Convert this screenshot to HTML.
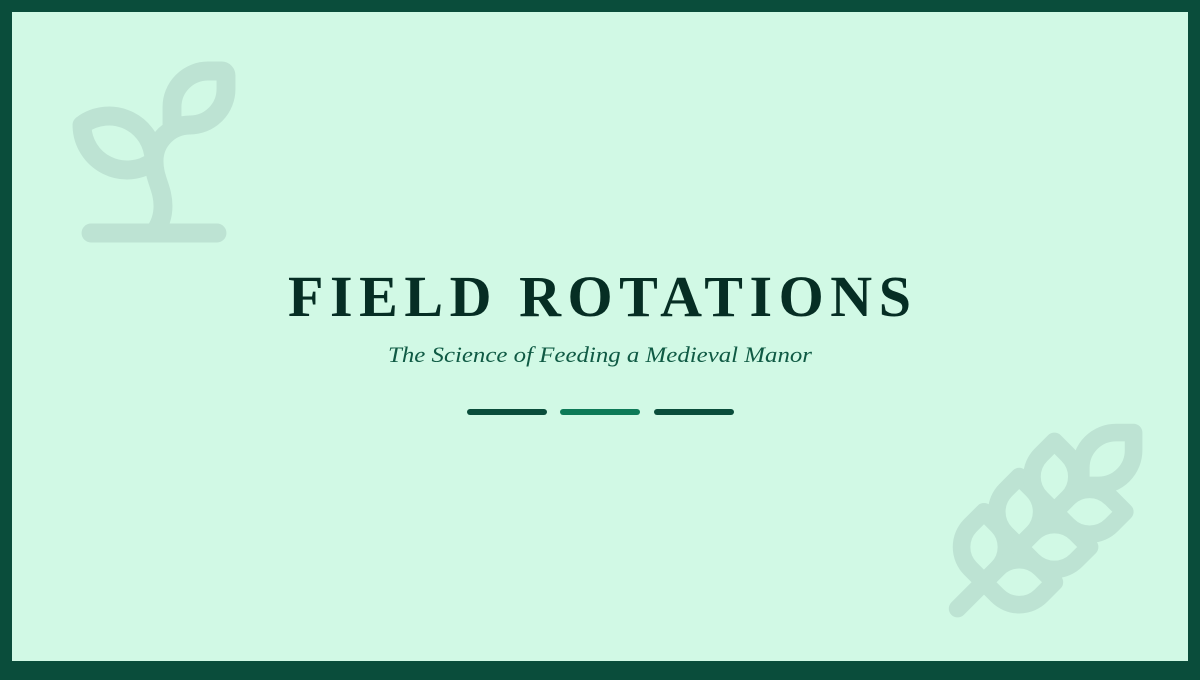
<!DOCTYPE html>
<html><head><meta charset="utf-8"><style>
html,body{margin:0;padding:0;}
body{width:1200px;height:675px;overflow:hidden;background:#0a4d3b;}
</style></head><body>
<svg width="1200" height="675" viewBox="0 0 1200 675" xmlns="http://www.w3.org/2000/svg">
<rect x="0" y="0" width="1200" height="675" fill="#0a4d3b"/>
<rect x="12" y="12" width="1176" height="649" fill="#d1f9e5"/>
<g transform="translate(46,44) scale(9)" fill="none" stroke="#bde3d3" stroke-width="2.1" stroke-linecap="round" stroke-linejoin="round">
<path d="M14 9.536V7a4 4 0 0 1 4-4h1.5a.5.5 0 0 1 .5.5V5a4 4 0 0 1-4 4 4 4 0 0 0-4 4c0 2 1 3 1 5a5 5 0 0 1-1 3"/>
<path d="M4 9a5 5 0 0 1 8 4 5 5 0 0 1-8-4"/>
<path d="M5 21h14"/>
</g>
<g transform="translate(940,415) scale(8.8)" fill="none" stroke="#bde3d3" stroke-width="2" stroke-linecap="round" stroke-linejoin="round">
<path d="M2 22 16 8"/>
<path d="M3.47 12.53 5 11l1.53 1.53a3.5 3.5 0 0 1 0 4.94L5 19l-1.530-1.53a3.5 3.5 0 0 1 0-4.94Z"/>
<path d="M7.47 8.53 9 7l1.53 1.53a3.5 3.5 0 0 1 0 4.94L9 15l-1.53-1.53a3.5 3.5 0 0 1 0-4.94Z"/>
<path d="M11.47 4.53 13 3l1.53 1.53a3.5 3.5 0 0 1 0 4.94L13 11l-1.53-1.53a3.5 3.5 0 0 1 0-4.94Z"/>
<path d="M20 2h2v2a4 4 0 0 1-4 4h-2V6a4 4 0 0 1 4-4Z"/>
<path d="M11.47 17.47 13 19l-1.53 1.53a3.5 3.5 0 0 1-4.94 0L5 19l1.53-1.53a3.5 3.5 0 0 1 4.94 0Z"/>
<path d="M15.47 13.470 17 15l-1.53 1.53a3.5 3.5 0 0 1-4.94 0L9 15l1.53-1.53a3.5 3.5 0 0 1 4.94 0Z"/>
<path d="M19.47 9.47 21 11l-1.53 1.53a3.5 3.5 0 0 1-4.94 0L13 11l1.53-1.53a3.5 3.5 0 0 1 4.94 0Z"/>
</g>
<text x="288" y="316" textLength="623" lengthAdjust="spacing" font-family="'Liberation Serif', serif" font-weight="bold" font-size="58" fill="#062e24">FIELD ROTATIONS</text>
<text x="600" y="362" text-anchor="middle" font-family="'Liberation Serif', serif" font-style="italic" font-size="22" fill="#0f5a44" textLength="424" lengthAdjust="spacingAndGlyphs">The Science of Feeding a Medieval Manor</text>
<rect x="467" y="409" width="80" height="6" rx="3" fill="#0a4d3b"/>
<rect x="560" y="409" width="80" height="6" rx="3" fill="#0d7a57"/>
<rect x="654" y="409" width="80" height="6" rx="3" fill="#0a4d3b"/>
<rect x="6" y="6" width="1188" height="663" fill="none" stroke="#0a4d3b" stroke-width="12"/>
</svg>
</body></html>
